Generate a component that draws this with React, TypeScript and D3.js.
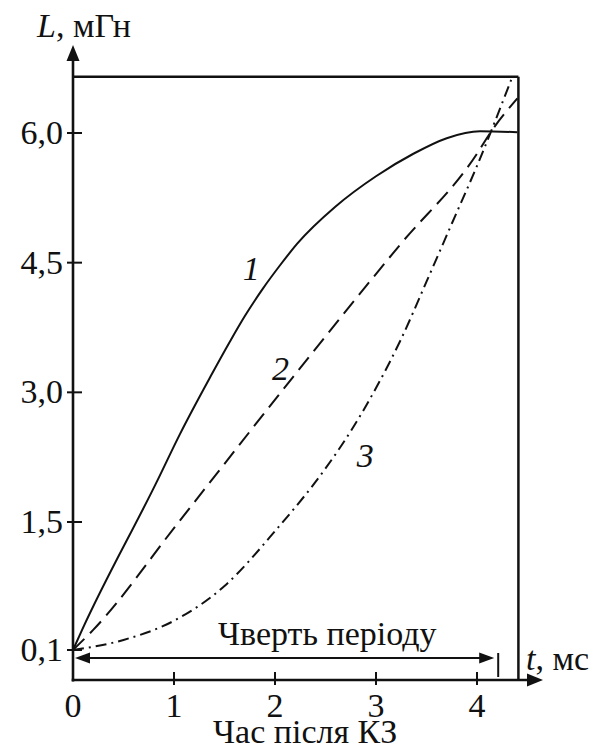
import React from "react";
import * as d3 from "d3";

// ---- Data ----
const curve1T = [0, 0.09, 0.84, 1.06, 1.36, 1.55, 1.7, 1.88, 2.05, 2.22, 2.6, 3.0, 3.37, 3.7, 4.03, 4.4];
const curve1L = [0.1, 0.32, 1.99, 2.52, 3.18, 3.58, 3.88, 4.2, 4.47, 4.72, 5.15, 5.5, 5.76, 5.94, 6.02, 6.01];

const curve2T = [0, 0.2, 1.06, 2.18, 3.24, 4.0, 4.13, 4.4];
const curve2L = [0.1, 0.32, 1.52, 3.18, 4.71, 5.76, 6.0, 6.4];

const curve3T = [0, 0.5, 1.0, 1.5, 2.0, 2.5, 2.75, 3.0, 3.25, 3.5, 3.75, 4.0, 4.35];
const curve3L = [0.1, 0.21, 0.42, 0.8, 1.4, 2.12, 2.55, 3.05, 3.62, 4.28, 4.95, 5.62, 6.65];

const yTickValues = [0.1, 1.5, 3.0, 4.5, 6.0];
const yTickLabels = ["0,1", "1,5", "3,0", "4,5", "6,0"];
const xTickValues = [0, 1, 2, 3, 4];
const xTickLabels = ["0", "1", "2", "3", "4"];

const curveLabels = ["1", "2", "3"];
const curveLabelT = [1.68, 1.97, 2.81];
const curveLabelL = [4.3, 3.14, 2.14];

const yAxisTitle = "L";
const yAxisUnit = ", мГн";
const xAxisTitle = "t";
const xAxisUnit = ", мс";
const quarterText = "Чверть періоду";
const xCaption = "Час після КЗ";

// extents
const boxT = 4.41;
const boxL = 6.65;
const quarterEndT = 4.2;

const FONT = "'Liberation Serif', 'Times New Roman', serif";

export default function App() {
  const W = 605;
  const H = 749;
  const x = d3.scaleLinear().domain([0, 4]).range([73, 477]);
  const y = d3.scaleLinear().domain([0.1, 1.5, 6.0]).range([650, 522, 133]);

  const x0 = x(0);
  const axisY = 680;
  const axisTipX = 543;
  const axisTipY = 45;
  const boxRight = x(boxT);
  const boxTop = y(boxL);
  const qY = 658;
  const qEnd = x(quarterEndT);

  const line = d3
    .line<[number, number]>()
    .x((d) => x(d[0]))
    .y((d) => y(d[1]))
    .curve(d3.curveMonotoneX);

  const pts = (ts: number[], ls: number[]) => ts.map((t, i) => [t, ls[i]] as [number, number]);

  const black = "#111";
  const FS = 34;

  return (
    <svg
      width={W}
      height={H}
      style={{ position: "absolute", left: 0, top: 0, background: "#fff" }}
      fontFamily={FONT}
    >
      <rect x={0} y={0} width={W} height={H} fill="#fff" />

      {/* curves */}
      <path d={line(pts(curve1T, curve1L)) || ""} fill="none" stroke={black} strokeWidth={2} />
      <path
        d={line(pts(curve2T, curve2L)) || ""}
        fill="none"
        stroke={black}
        strokeWidth={2}
        strokeDasharray="16 8"
      />
      <path
        d={line(pts(curve3T, curve3L)) || ""}
        fill="none"
        stroke={black}
        strokeWidth={2}
        strokeDasharray="11 5 2 5"
      />

      {/* box */}
      <line x1={x0} x2={boxRight} y1={boxTop} y2={boxTop} stroke={black} strokeWidth={2.5} />
      <line x1={boxRight} x2={boxRight} y1={boxTop} y2={axisY} stroke={black} strokeWidth={2.5} />

      {/* y axis */}
      <line x1={x0} x2={x0} y1={axisY + 1.5} y2={axisTipY + 12} stroke={black} strokeWidth={2.6} />
      <path
        d={`M${x0},${axisTipY} L${x0 - 6.5},${axisTipY + 16} L${x0 + 6.5},${axisTipY + 16} Z`}
        fill={black}
      />
      {/* x axis */}
      <line x1={x0 - 1.3} x2={axisTipX - 10} y1={axisY} y2={axisY} stroke={black} strokeWidth={2.6} />
      <path
        d={`M${axisTipX},${axisY} L${axisTipX - 16},${axisY - 6.5} L${axisTipX - 16},${axisY + 6.5} Z`}
        fill={black}
      />

      {/* y ticks */}
      {yTickValues.map((v, i) => (
        <g key={"yt" + i}>
          <line x1={x0 - 6} x2={x0 + 9} y1={y(v)} y2={y(v)} stroke={black} strokeWidth={2} />
          <text x={63} y={y(v) + 11} textAnchor="end" fontSize={FS} fill={black}>
            {yTickLabels[i]}
          </text>
        </g>
      ))}

      {/* x ticks */}
      {xTickValues.map((v, i) => (
        <g key={"xt" + i}>
          {v !== 0 && (
            <line x1={x(v)} x2={x(v)} y1={axisY - 8} y2={axisY + 5} stroke={black} strokeWidth={2} />
          )}
          <text x={x(v)} y={717} textAnchor="middle" fontSize={FS} fill={black}>
            {xTickLabels[i]}
          </text>
        </g>
      ))}

      {/* quarter period arrow */}
      <line x1={x0 + 10} x2={qEnd - 12} y1={qY} y2={qY} stroke={black} strokeWidth={2.2} />
      <path d={`M${x0 + 2},${qY} L${x0 + 17},${qY - 5.5} L${x0 + 17},${qY + 5.5} Z`} fill={black} />
      <path d={`M${qEnd - 3},${qY} L${qEnd - 18},${qY - 5.5} L${qEnd - 18},${qY + 5.5} Z`} fill={black} />
      <line x1={qEnd + 1} x2={qEnd + 1} y1={qY - 5} y2={qY + 19} stroke={black} strokeWidth={2} />
      <text x={218} y={645} fontSize={FS} fill={black}>
        {quarterText}
      </text>

      {/* curve labels */}
      {curveLabels.map((c, i) => (
        <text
          key={"cl" + i}
          x={x(curveLabelT[i])}
          y={y(curveLabelL[i])}
          fontSize={FS}
          fontStyle="italic"
          fill={black}
        >
          {c}
        </text>
      ))}

      {/* axis titles */}
      <text x={37} y={37} fontSize={FS} fill={black}>
        <tspan fontStyle="italic">{yAxisTitle}</tspan>
        <tspan>{yAxisUnit}</tspan>
      </text>
      <text x={526} y={670} fontSize={FS} fill={black}>
        <tspan fontStyle="italic">{xAxisTitle}</tspan>
        <tspan>{xAxisUnit}</tspan>
      </text>
      <text x={213} y={743} fontSize={FS} fill={black}>
        {xCaption}
      </text>
    </svg>
  );
}
